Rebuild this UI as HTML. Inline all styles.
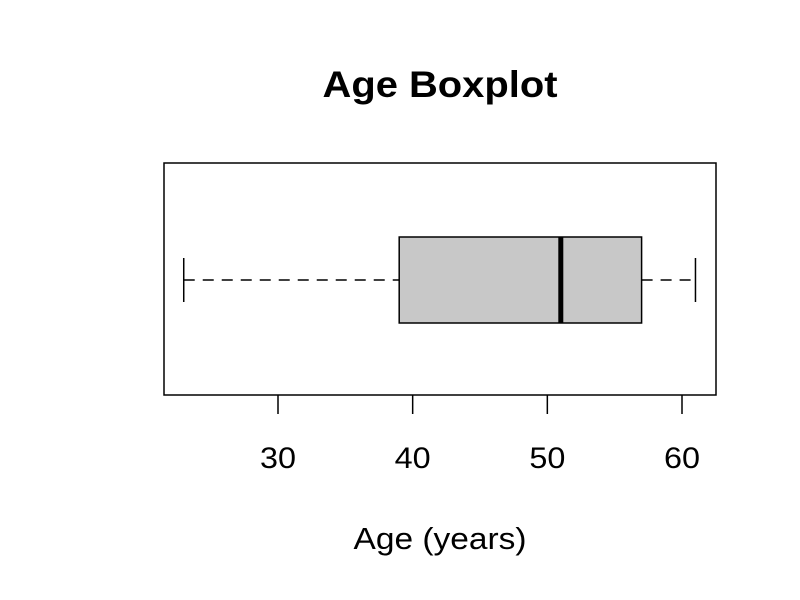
<!DOCTYPE html>
<html><head><meta charset="utf-8"><style>
html,body{margin:0;padding:0;background:#fff;}
svg{display:block;font-family:"Liberation Sans",Arial,sans-serif;}
</style></head><body>
<svg id="chart" width="800" height="600" viewBox="0 0 800 600">
<text x="440" y="97" text-anchor="middle" font-size="37" font-weight="bold" textLength="235" lengthAdjust="spacingAndGlyphs">Age Boxplot</text>
<rect x="164" y="163" width="552" height="232" fill="none" stroke="#000" stroke-width="1.5"/>
<g id="axis"></g>
<g id="box"></g>
<text x="440" y="549" text-anchor="middle" font-size="31" textLength="173" lengthAdjust="spacingAndGlyphs">Age (years)</text>
</svg>
<script>
const ticks = [30, 40, 50, 60];
const stats = [23, 39, 51, 57, 61]; // min, q1, median, q3, max
const NS = "http://www.w3.org/2000/svg";
function x(v){ return 278 + (v - 30) * (682 - 278) / 30; }
function mk(tag, attrs, parent){ const e = document.createElementNS(NS, tag); for (const k in attrs) e.setAttribute(k, attrs[k]); parent.appendChild(e); return e; }
const ax = document.getElementById('axis');
ticks.forEach(t => {
  const l = mk('line', {x1:x(t), x2:x(t), y1:395, y2:414, stroke:'#000', 'stroke-width':1.5}, ax);
  
  
  const tx = mk('text', {x:x(t), y:468, 'text-anchor':'middle', 'font-size':30, textLength:36, lengthAdjust:'spacingAndGlyphs'}, ax);
  tx.textContent = t;
  
  
});
const bx = document.getElementById('box');
const [mn, q1, md, q3, mx] = stats;
const yc = 280, yt = 237, yb = 323;
const w1 = mk('line', {x1:x(mn), x2:x(q1), y1:yc, y2:yc, stroke:'#000', 'stroke-width':1.5, 'stroke-dasharray':'11,8'}, bx);


const w2 = mk('line', {x1:x(q3), x2:x(mx), y1:yc, y2:yc, stroke:'#000', 'stroke-width':1.5, 'stroke-dasharray':'11,8'}, bx);


const c1 = mk('line', {x1:x(mn), x2:x(mn), y1:258, y2:302, stroke:'#000', 'stroke-width':1.5}, bx);


const c2 = mk('line', {x1:x(mx), x2:x(mx), y1:258, y2:302, stroke:'#000', 'stroke-width':1.5}, bx);


const r = mk('rect', {x:x(q1), y:yt, width:x(q3)-x(q1), height:yb-yt, fill:'#c8c8c8', stroke:'#000', 'stroke-width':1.5}, bx);


const m = mk('line', {x1:x(md), x2:x(md), y1:yt, y2:yb, stroke:'#000', 'stroke-width':5}, bx);


</script>
</body></html>
